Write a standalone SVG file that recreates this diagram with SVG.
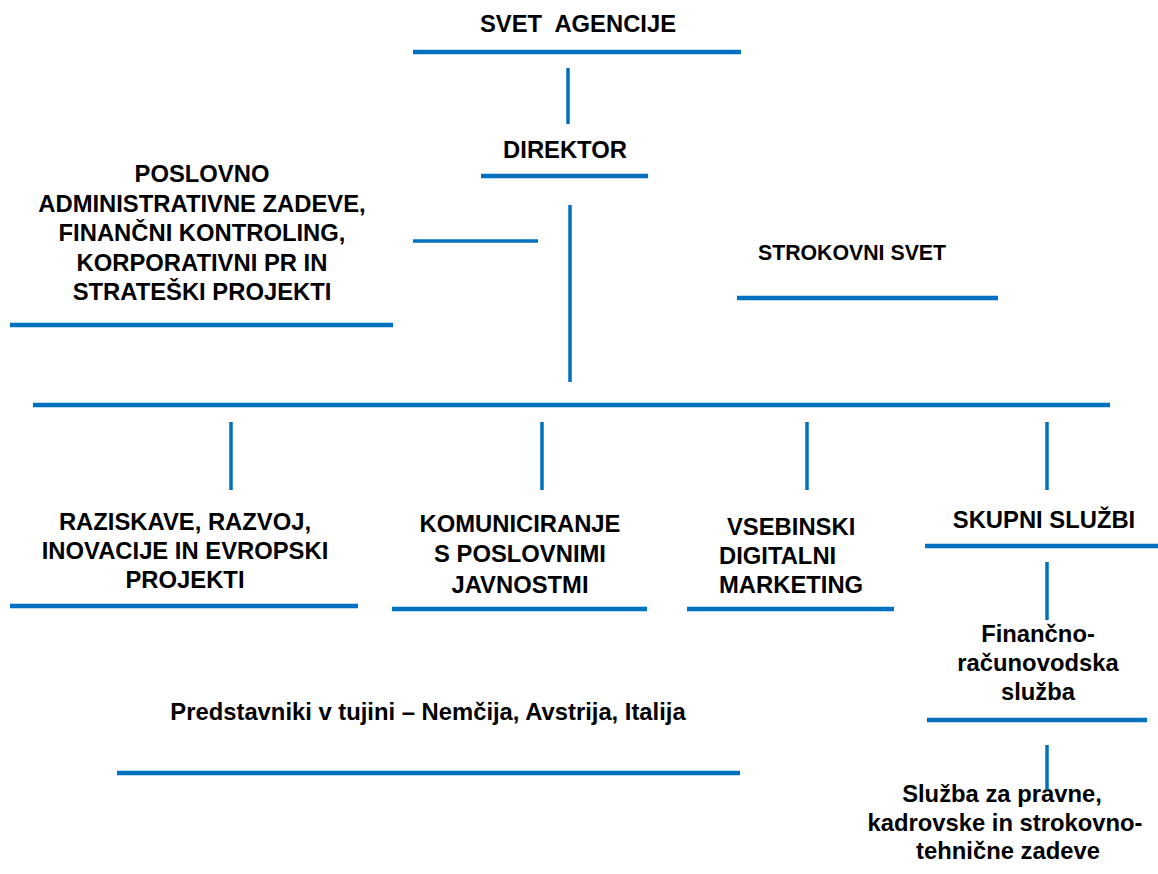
<svg xmlns="http://www.w3.org/2000/svg" width="1158" height="874" viewBox="0 0 1158 874">
<style>
  text { font-family: "Liberation Sans", Arial, sans-serif; font-weight: bold; font-size: 23.8px; fill: #000; text-anchor: middle; }
  .bar { stroke: #0070C0; stroke-width: 4.5; fill: none; }
  .con { stroke: #0070C0; stroke-width: 3.5; fill: none; }
  .small { font-size: 21.3px; }
  .start { text-anchor: start; }
</style>
<rect width="1158" height="874" fill="#fff"/>
<g id="svet-agencije">
  <text x="578" y="32" xml:space="preserve">SVET  AGENCIJE</text>
  <line class="bar" x1="413" y1="52" x2="741" y2="52"/>
</g>
<g id="direktor">
  <text x="565" y="158">DIREKTOR</text>
  <line class="bar" x1="481" y1="176" x2="648" y2="176"/>
</g>
<g id="poslovno">
  <text x="202" y="182">POSLOVNO</text>
  <text x="202" y="211.5">ADMINISTRATIVNE ZADEVE,</text>
  <text x="202" y="241">FINANČNI KONTROLING,</text>
  <text x="202" y="270.5">KORPORATIVNI PR IN</text>
  <text x="202" y="300">STRATEŠKI PROJEKTI</text>
  <line class="bar" x1="10" y1="325" x2="393" y2="325"/>
</g>
<g id="strokovni-svet">
  <text class="small" x="852" y="260">STROKOVNI SVET</text>
  <line class="bar" x1="737" y1="298" x2="998" y2="298"/>
</g>
<g id="raziskave">
  <text x="185" y="530">RAZISKAVE, RAZVOJ,</text>
  <text x="185" y="559">INOVACIJE IN EVROPSKI</text>
  <text x="185" y="588">PROJEKTI</text>
  <line class="bar" x1="10" y1="606" x2="358" y2="606"/>
</g>
<g id="komuniciranje">
  <text x="520" y="532">KOMUNICIRANJE</text>
  <text x="520" y="562">S POSLOVNIMI</text>
  <text x="520" y="593">JAVNOSTMI</text>
  <line class="bar" x1="392" y1="609" x2="647" y2="609"/>
</g>
<g id="vsebinski">
  <text class="start" x="727" y="535">VSEBINSKI</text>
  <text class="start" x="719" y="564">DIGITALNI</text>
  <text class="start" x="719" y="593">MARKETING</text>
  <line class="bar" x1="687" y1="609" x2="894" y2="609"/>
</g>
<g id="skupni-sluzbi">
  <text x="1044" y="528">SKUPNI SLUŽBI</text>
  <line class="bar" x1="925" y1="546" x2="1158" y2="546"/>
</g>
<g id="financno">
  <text x="1038" y="642">Finančno-</text>
  <text x="1038" y="671">računovodska</text>
  <text x="1038" y="700">služba</text>
  <line class="bar" x1="927" y1="720" x2="1147" y2="720"/>
</g>
<g id="pravne">
  <text x="1002" y="802">Služba za pravne,</text>
  <text x="1005" y="831">kadrovske in strokovno-</text>
  <text x="1008" y="859">tehnične zadeve</text>
</g>
<g id="predstavniki">
  <text x="428" y="720">Predstavniki v tujini – Nemčija, Avstrija, Italija</text>
  <line class="bar" x1="117" y1="773" x2="740" y2="773"/>
</g>
<g id="connectors">
  <line class="con" x1="568" y1="68" x2="568" y2="124"/>
  <line class="con" x1="570" y1="205" x2="570" y2="382"/>
  <line class="con" x1="413" y1="241" x2="538" y2="241"/>
  <line class="bar" x1="33" y1="405" x2="1110" y2="405"/>
  <line class="con" x1="231" y1="422" x2="231" y2="490"/>
  <line class="con" x1="542" y1="422" x2="542" y2="490"/>
  <line class="con" x1="807" y1="422" x2="807" y2="490"/>
  <line class="con" x1="1047" y1="422" x2="1047" y2="490"/>
  <line class="con" x1="1047" y1="562" x2="1047" y2="620"/>
  <line class="con" x1="1047" y1="745" x2="1047" y2="790"/>
</g>
</svg>
